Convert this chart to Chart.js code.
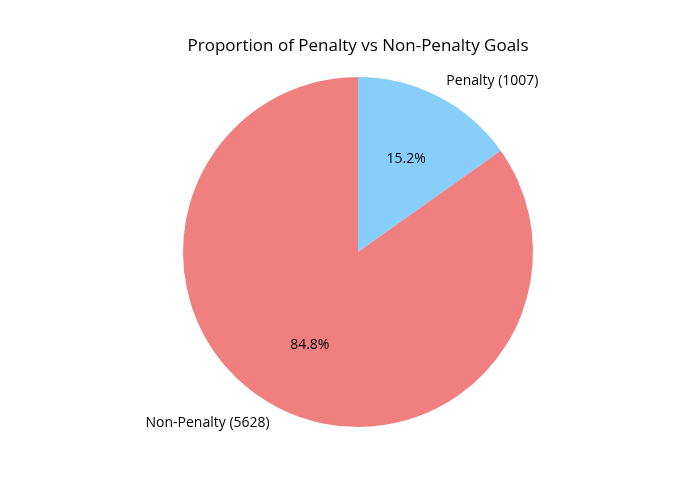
<!DOCTYPE html>
<html>
<head>
<meta charset="utf-8">
<script src="https://cdn.jsdelivr.net/npm/chart.js@4/dist/chart.umd.min.js"></script>
<style>
  html, body { margin: 0; padding: 0; background: #fff; }
  #wrap { width: 700px; height: 500px; }
</style>
</head>
<body>
<div id="wrap"><canvas id="chart-area" width="700" height="500"></canvas></div>
<script>
// data
var labels = ['Penalty', 'Non-Penalty'];
var goals = [1007, 5628];
var colors = ['#87CEFA', '#F08080'];

var total = goals.reduce(function (a, b) { return a + b; }, 0);

// matplotlib-style labels: name outside at 1.1r, percent inside at 0.6r
var pieLabels = {
    id: 'pieLabels',
    afterDatasetsDraw: function (chart) {
        var ctx = chart.ctx;
        var meta = chart.getDatasetMeta(0);
        ctx.save();
        ctx.fillStyle = '#000';
        ctx.textBaseline = 'middle';
        meta.data.forEach(function (arc, i) {
            var p = arc.getProps(['x', 'y', 'startAngle', 'endAngle', 'outerRadius'], true);
            var mid = (p.startAngle + p.endAngle) / 2;
            var cx = Math.cos(mid), cy = Math.sin(mid);

            ctx.font = '14px "Open Sans"';
            ctx.textAlign = cx >= 0 ? 'left' : 'right';
            ctx.fillText(labels[i] + ' (' + goals[i] + ')',
                p.x + cx * p.outerRadius * 1.1, p.y + cy * p.outerRadius * 1.1);

            ctx.textAlign = 'center';
            ctx.fillText((goals[i] / total * 100).toFixed(1) + '%',
                p.x + cx * p.outerRadius * 0.6, p.y + cy * p.outerRadius * 0.6);
        });
        ctx.restore();
    }
};

var ctx = document.getElementById('chart-area').getContext('2d');
var config = {
    type: 'pie',
    data: {
        labels: labels,
        datasets: [{
            data: goals,
            backgroundColor: colors,
            borderWidth: 0
        }]
    },
    options: {
        responsive: false,
        animation: false,
        layout: {
            padding: { top: 26, bottom: 73, left: 16, right: 0 }
        },
        plugins: {
            legend: { display: false },
            tooltip: { enabled: false },
            title: {
                display: true,
                text: 'Proportion of Penalty vs Non-Penalty Goals',
                color: '#000',
                font: { family: '"Open Sans"', size: 17, weight: 'normal', lineHeight: 1.2 },
                padding: { top: 10, bottom: 20.6 }
            }
        }
    },
    plugins: [pieLabels]
};
var chart = new Chart(ctx, config);
</script>
</body>
</html>
